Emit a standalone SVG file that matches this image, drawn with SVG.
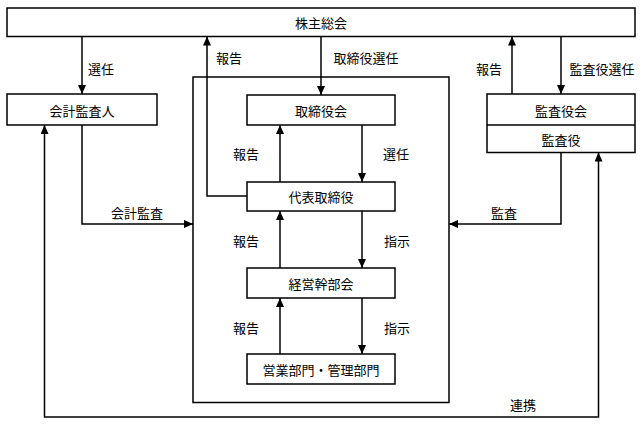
<svg xmlns="http://www.w3.org/2000/svg" width="642" height="425" viewBox="0 0 642 425">
<style>
.box{fill:#fff;stroke:#000;stroke-width:1.5}
.frame{fill:none;stroke:#000;stroke-width:1.5}
.ln{fill:none;stroke:#000;stroke-width:1.5}
.arr{marker-end:url(#ah)}
text{font-family:"Noto Sans CJK JP","Noto Sans",sans-serif;font-size:13px;fill:#000;text-anchor:middle;dominant-baseline:central}
</style>
<defs>
<marker id="ah" markerUnits="userSpaceOnUse" markerWidth="10" markerHeight="10" refX="9" refY="4" orient="auto-start-reverse">
<path d="M0,0 L9,4 L0,8 z" fill="#000"/>
</marker>
</defs>
<rect x="0" y="0" width="642" height="425" fill="#fff"/>
<g id="board-frame"><rect class="frame" x="193" y="77" width="256" height="325.5"/></g>
<g id="connectors">
<path class="ln arr" d="M82,36.5 V94"/>
<path class="ln arr" d="M247,196 H207 V36.5"/>
<path class="ln arr" d="M321,36.5 V95"/>
<path class="ln arr" d="M280,182 V125"/>
<path class="ln arr" d="M362,125 V182"/>
<path class="ln arr" d="M280,268 V211"/>
<path class="ln arr" d="M362,211 V268"/>
<path class="ln arr" d="M280,354 V298"/>
<path class="ln arr" d="M362,298 V354"/>
<path class="ln arr" d="M512,94 V36.5"/>
<path class="ln arr" d="M561,36.5 V94"/>
<path class="ln arr" d="M82,125 V224 H193"/>
<path class="ln arr" d="M561,152.5 V224 H449"/>
<path class="ln" d="M44.5,125 V417 H598.5 V152.5" marker-start="url(#ah)" marker-end="url(#ah)"/>
<text x="101" y="68">選任</text>
<text x="229" y="57">報告</text>
<text x="366" y="57">取締役選任</text>
<text x="246" y="153">報告</text>
<text x="396" y="153">選任</text>
<text x="137" y="212">会計監査</text>
<text x="489" y="68">報告</text>
<text x="602" y="68">監査役選任</text>
<text x="504" y="212">監査</text>
<text x="246" y="240">報告</text>
<text x="397" y="240">指示</text>
<text x="246" y="327">報告</text>
<text x="397" y="327">指示</text>
<text x="523" y="404">連携</text>
</g>
<g id="shareholders"><rect class="box" x="7" y="8" width="628" height="28.5"/><text x="321" y="22">株主総会</text></g>
<g id="auditor"><rect class="box" x="7" y="94" width="150" height="31"/><text x="82" y="110">会計監査人</text></g>
<g id="board"><rect class="box" x="247" y="95" width="148" height="30"/><text x="321" y="110">取締役会</text></g>
<g id="ceo"><rect class="box" x="247" y="182" width="148" height="29"/><text x="321" y="196.5">代表取締役</text></g>
<g id="exec"><rect class="box" x="247" y="268" width="148" height="30"/><text x="321" y="283">経営幹部会</text></g>
<g id="depts"><rect class="box" x="247" y="354" width="148" height="30"/><text x="321" y="369">営業部門・管理部門</text></g>
<g id="audit-board"><rect class="box" x="487" y="94" width="148" height="58.5"/><line class="ln" x1="487" y1="125" x2="635" y2="125"/><text x="561" y="110">監査役会</text><text x="561" y="139">監査役</text></g>
</svg>
